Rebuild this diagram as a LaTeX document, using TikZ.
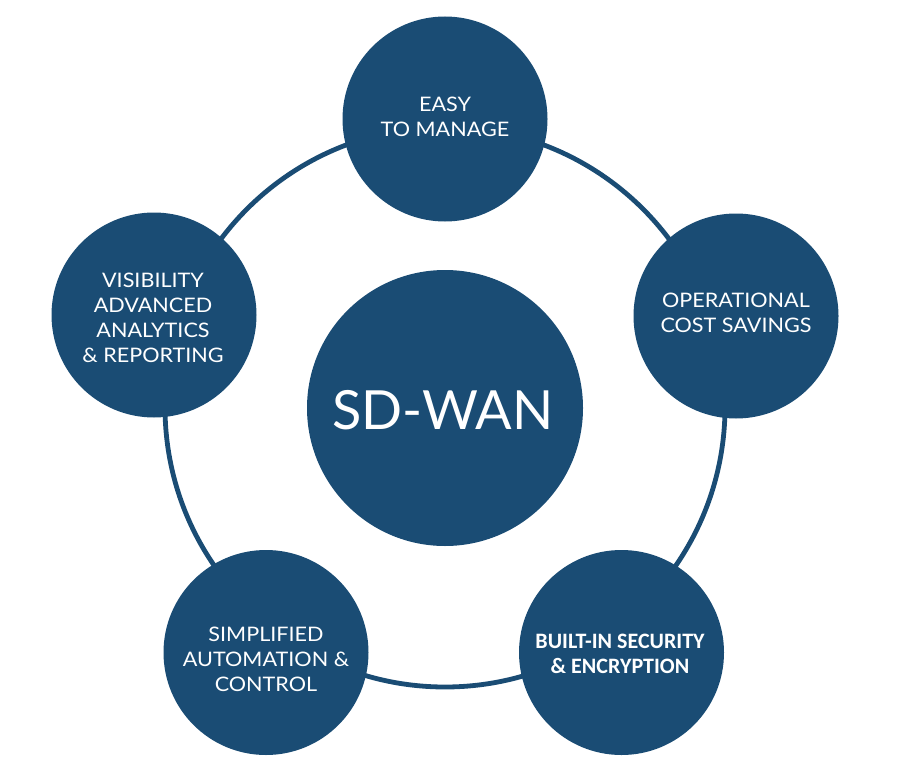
\documentclass[tikz,border=0pt]{standalone}
\usepackage{fontspec}
\setmainfont{Lato}[FakeStretch=1.08]
\newfontfamily\hubfont{Lato}
\newfontfamily\secfont{Carlito}[BoldFont=* Bold]
\definecolor{navy}{RGB}{26,76,116}
\begin{document}
\begin{tikzpicture}[x=1pt,y=-1pt,
  bub/.style={circle,fill=navy,inner sep=0pt,minimum size=205pt},
  hub/.style={circle,fill=navy,inner sep=0pt,minimum size=276pt},
  lbl/.style={text=white,align=center,inner sep=0pt,font=\fontsize{20}{25}\selectfont},
  ringline/.style={draw=navy,line width=4.8pt}]
\useasboundingbox (0,0) rectangle (912,770);
\coordinate (c) at (445,407);
\draw[ringline] (c) circle[radius=280pt];
\node[hub] (hub) at (445,408) {};
\node[bub] (top) at (445,119) {};
\node[bub] (left) at (154,315) {};
\node[bub] (right) at (736,316) {};
\node[bub] (bl) at (266,652.5) {};
\node[bub] (br) at (621.5,652.5) {};
\node[lbl,font=\hubfont\fontsize{54}{60}\selectfont] (hubt) at (443,409.7) {SD-WAN};
\node[lbl] (topt) at (445,117) {EASY\\TO MANAGE};
\node[lbl] (leftt) at (153,317.5) {VISIBILITY\\ADVANCED\\ANALYTICS\\\&~REPORTING};
\node[lbl] (rightt) at (736,313.3) {OPERATIONAL\\COST SAVINGS};
\node[lbl] (blt) at (266,659.5) {SIMPLIFIED\\AUTOMATION \&\\CONTROL};
\node[lbl,font=\secfont\bfseries\fontsize{22}{25}\selectfont] (brt) at (620,654.3) {BUILT-IN SECURITY\\\&~ENCRYPTION};
\end{tikzpicture}
\end{document}
